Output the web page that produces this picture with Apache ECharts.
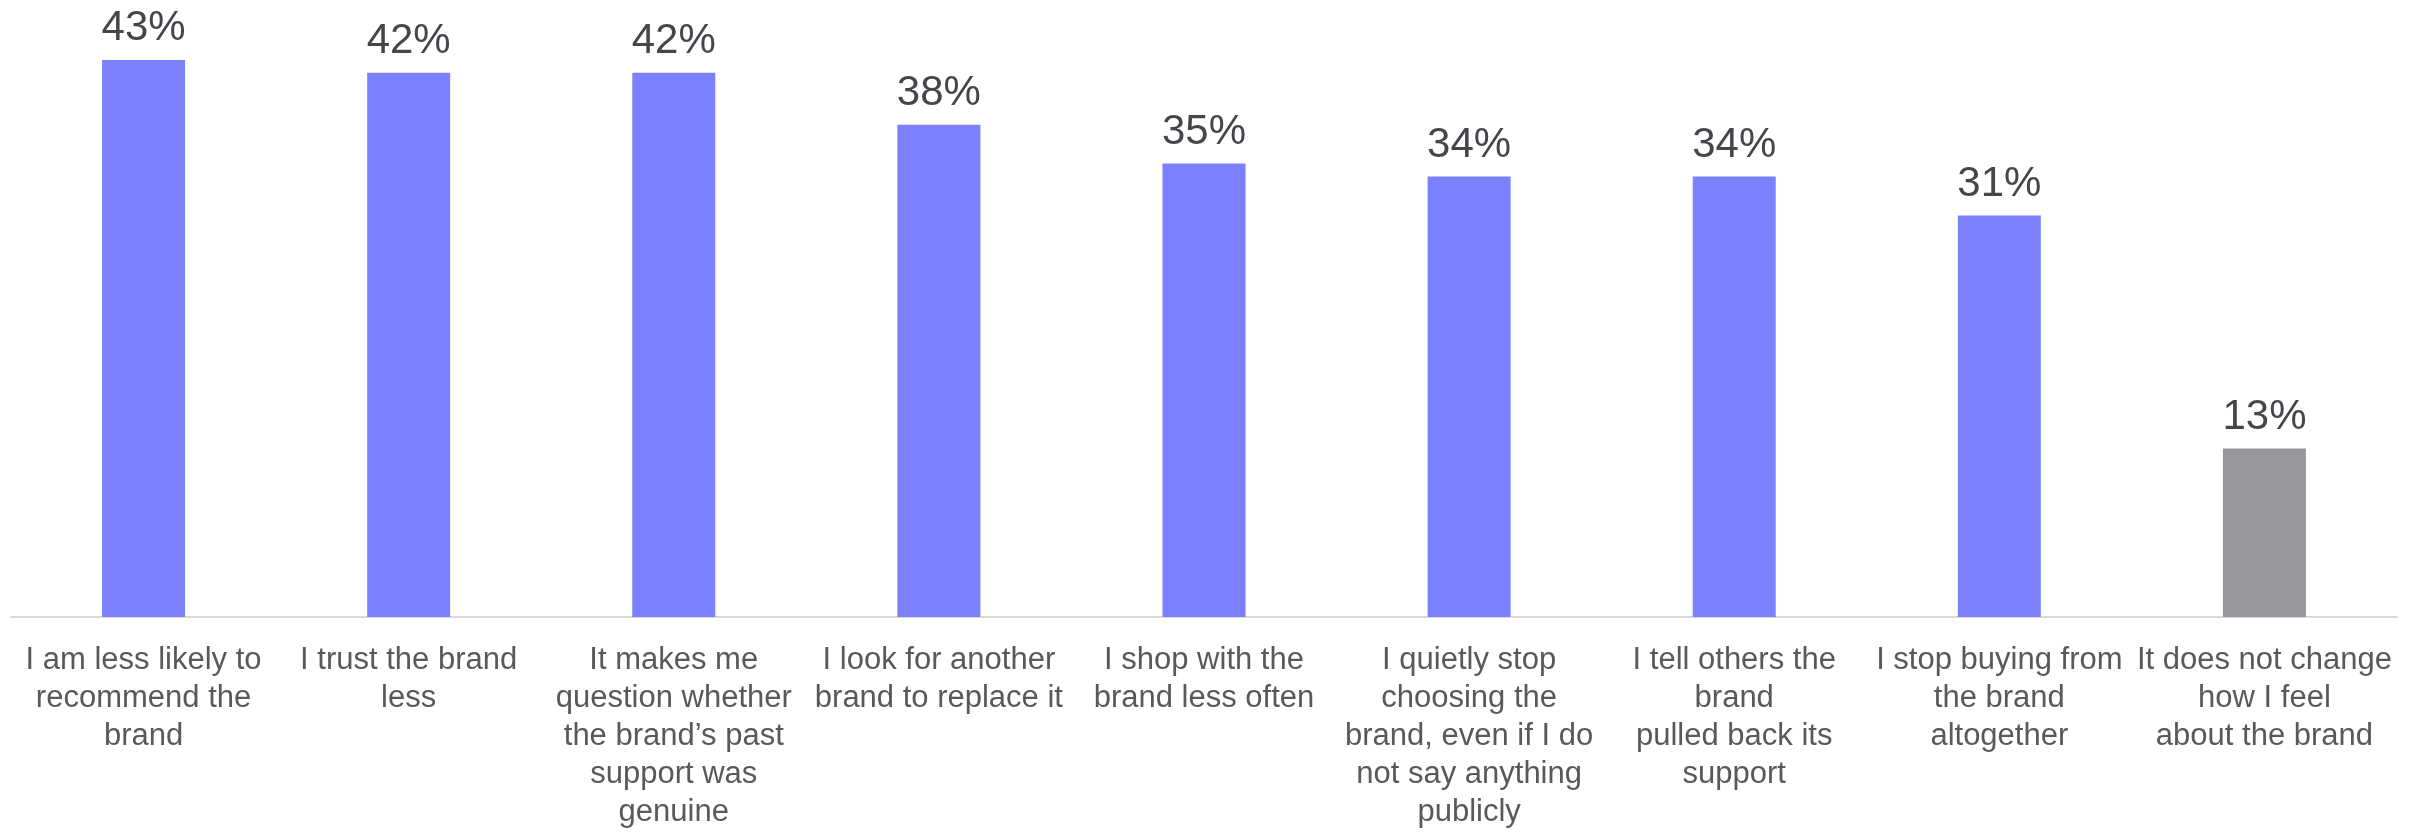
<!DOCTYPE html>
<html>
<head>
<meta charset="utf-8">
<title>Brand reactions</title>
<script src="https://cdn.jsdelivr.net/npm/echarts@6/dist/echarts.min.js"></script>
<style>
  html, body { margin: 0; padding: 0; background: #ffffff; }
  #chart { width: 2425px; height: 832px; }
</style>
</head>
<body>
<div id="chart"></div>
<script>
// Response categories (line breaks as shown under each bar)
const categories = [
  'I am less likely to\nrecommend the\nbrand',
  'I trust the brand\nless',
  'It makes me\nquestion whether\nthe brand\u2019s past\nsupport was\ngenuine',
  'I look for another\nbrand to replace it',
  'I shop with the\nbrand less often',
  'I quietly stop\nchoosing the\nbrand, even if I do\nnot say anything\npublicly',
  'I tell others the\nbrand\npulled back its\nsupport',
  'I stop buying from\nthe brand\naltogether',
  'It does not change\nhow I feel\nabout the brand'
];

// Share of respondents (%)
const values = [43, 42, 42, 38, 35, 34, 34, 31, 13];

// Neutral answer gets the grey bar
const neutralIndex = [8];

const BAR_COLOR = '#7b80ff';
const NEUTRAL_COLOR = '#96979b';
const FONT = '"Liberation Sans", Arial, Helvetica, sans-serif';

const chart = echarts.init(document.getElementById('chart'));

chart.setOption({
  backgroundColor: '#ffffff',
  animation: false,
  grid: { left: 11, right: 28, top: 34, bottom: 215, containLabel: false },
  xAxis: {
    type: 'category',
    data: categories,
    axisLine: { show: true, lineStyle: { color: '#d9d9d9', width: 2 } },
    axisTick: { show: false },
    axisLabel: {
      interval: 0,
      margin: 24,
      color: '#595959',
      fontFamily: FONT,
      fontSize: 31,
      lineHeight: 38,
      align: 'center'
    }
  },
  yAxis: {
    type: 'value',
    min: 0,
    max: 45,
    show: false,
    splitLine: { show: false }
  },
  series: [{
    type: 'bar',
    barWidth: 83,
    data: values.map((v, i) => ({
      value: v,
      itemStyle: { color: neutralIndex.includes(i) ? NEUTRAL_COLOR : BAR_COLOR }
    })),
    label: {
      show: true,
      position: 'top',
      distance: 10,
      formatter: p => p.value + '%',
      color: '#44464c',
      fontFamily: FONT,
      fontSize: 42
    }
  }]
});
</script>
</body>
</html>
